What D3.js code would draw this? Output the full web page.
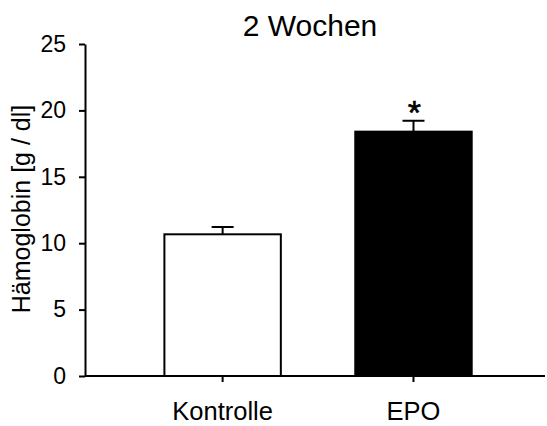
<!DOCTYPE html>
<html><head><meta charset="utf-8">
<script src="https://cdn.jsdelivr.net/npm/d3@7"></script>
<style>body{margin:0;background:#fff}svg{display:block}</style>
</head><body>
<svg id="c" width="547" height="426"></svg>
<script>
const categories = ["Kontrolle", "EPO"];
const means = [10.67, 18.4];
const errors = [0.55, 0.82];
const fills = ["#ffffff", "#000000"];
const significance = ["", "*"];
const yTicks = [0, 5, 10, 15, 20, 25];
const title = "2 Wochen";
const yLabel = "Hämoglobin [g / dl]";

const svg = d3.select("#c");
const font = "'Liberation Sans', Arial, sans-serif";
const x0 = 85, x1 = 545, yTop = 44, yBot = 376;

const y = d3.scaleLinear().domain([0, 25]).range([yBot, yTop]);
const x = d3.scaleBand().domain(categories).range([x0, x1])
  .paddingInner(0.39).paddingOuter(0.4).align(0.52);

// bars
svg.selectAll("rect.bar").data(categories).enter().append("rect")
  .attr("x", d => x(d)).attr("width", x.bandwidth())
  .attr("y", (d, i) => y(means[i])).attr("height", (d, i) => y(0) - y(means[i]))
  .attr("fill", (d, i) => fills[i]).attr("stroke", "#000").attr("stroke-width", 2);

// error bars
const capW = 22;
categories.forEach((c, i) => {
  const cx = x(c) + x.bandwidth() / 2;
  svg.append("line").attr("x1", cx).attr("x2", cx)
    .attr("y1", y(means[i])).attr("y2", y(means[i] + errors[i]))
    .attr("stroke", "#000").attr("stroke-width", 2);
  svg.append("line").attr("x1", cx - capW / 2).attr("x2", cx + capW / 2)
    .attr("y1", y(means[i] + errors[i])).attr("y2", y(means[i] + errors[i]))
    .attr("stroke", "#000").attr("stroke-width", 2);
  if (significance[i]) {
    svg.append("text").attr("x", cx + 1).attr("y", y(means[i] + errors[i]) + 3)
      .attr("text-anchor", "middle").attr("font-family", font).attr("font-size", 34)
      .attr("stroke", "#000").attr("stroke-width", 0.6)
      .text(significance[i]);
  }
});

// y axis
const yAxis = d3.axisLeft(y).tickValues(yTicks).tickSize(6).tickPadding(13).tickSizeOuter(0);
const gy = svg.append("g").attr("transform", `translate(${x0},0)`).call(yAxis);
gy.select(".domain").attr("stroke-width", 2);
gy.selectAll(".tick line").attr("stroke-width", 2);
gy.selectAll("text").attr("font-family", font).attr("font-size", 23).attr("fill", "#000");

// x axis
const xAxis = d3.axisBottom(x).tickSize(6).tickPadding(20).tickSizeOuter(0);
const gx = svg.append("g").attr("transform", `translate(0,${yBot})`).call(xAxis);
gx.select(".domain").attr("stroke-width", 2).attr("d", `M${x0},0H${x1}`);
gx.selectAll(".tick line").attr("stroke-width", 2);
gx.selectAll("text").attr("font-family", font).attr("font-size", 25.5).attr("fill", "#000");

// title
svg.append("text").attr("x", 310).attr("y", 36).attr("text-anchor", "middle")
  .attr("font-family", font).attr("font-size", 30).text(title);

// y label
svg.append("text").attr("transform", `translate(30,209) rotate(-90)`)
  .attr("text-anchor", "middle").attr("font-family", font).attr("font-size", 25)
  .text(yLabel);
</script>
</body></html>
